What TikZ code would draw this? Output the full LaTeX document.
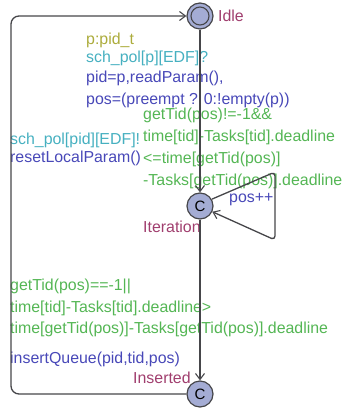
\documentclass[tikz,border=0pt]{standalone}
\usepackage{fontspec}
\setmainfont{Liberation Sans}
\usetikzlibrary{arrows.meta}
\definecolor{locname}{RGB}{160,62,110}
\definecolor{selectc}{RGB}{172,172,60}
\definecolor{syncc}{RGB}{70,176,192}
\definecolor{assignc}{RGB}{72,72,184}
\definecolor{guardc}{RGB}{84,182,84}
\definecolor{locfill}{RGB}{164,172,212}
\definecolor{edgec}{RGB}{70,70,74}
\tikzset{
  loc/.style={circle,draw=edgec,line width=1.2pt,fill=locfill,minimum size=26pt,inner sep=0pt,font=\fontsize{15}{15}\selectfont},
  lbl/.style={anchor=base west,inner sep=0pt,font=\fontsize{15.9}{15.9}\selectfont},
  edge/.style={draw=edgec,line width=1.3pt,rounded corners=6pt},
  arr/.style={-{Straight Barb[length=6pt,width=9pt,line width=1.1pt]}},
}
\begin{document}
\begin{tikzpicture}[x=1pt,y=-1pt]
\useasboundingbox (0,0) rectangle (343,411);

% labels
\node[lbl,text=selectc] (sel) at (86,45) {p:pid\_t};
\node[lbl,text=syncc] (sy1) at (86,63) {sch\_pol[p][EDF]?};
\node[lbl,text=assignc] (as1) at (86,83) {pid=p,readParam(),};
\node[lbl,text=assignc] (as2) at (86,105) {pos=(preempt ? 0:!empty(p))};
\node[lbl,text=guardc] (g1) at (143,120) {getTid(pos)!=-1\&\&};
\node[lbl,text=guardc] (g2) at (143,142) {time[tid]-Tasks[tid].deadline};
\node[lbl,text=guardc] (g3) at (143,164) {<=time[getTid(pos)]};
\node[lbl,text=guardc] (g4) at (143,186) {-Tasks[getTid(pos)].deadline};
\node[lbl,text=syncc] (sy2) at (10,145) {sch\_pol[pid][EDF]!};
\node[lbl,text=assignc] (as3) at (10,163) {resetLocalParam()};
\node[lbl,text=assignc] (inc) at (229,203) {pos++};
\node[lbl,text=guardc] (h1) at (10,290) {getTid(pos)==-1||};
\node[lbl,text=guardc] (h2) at (10,312) {time[tid]-Tasks[tid].deadline>};
\node[lbl,text=guardc] (h3) at (10,333) {time[getTid(pos)]-Tasks[getTid(pos)].deadline};
\node[lbl,text=assignc] (as4) at (10,363) {insertQueue(pid,tid,pos)};

% locations
\node[loc] (idle) at (200,16) {};
\node[circle,draw=edgec,line width=1.1pt,minimum size=18pt,inner sep=0pt] (idlein) at (idle) {};
\node[loc] (iter) at (200,206) {C};
\node[loc] (ins) at (200,394) {C};
\node[lbl,text=locname] (nidle) at (218,22) {Idle};
\node[lbl,text=locname] (niter) at (143,232) {Iteration};
\node[lbl,text=locname] (nins) at (133,383) {Inserted};

% edges
\draw[edge,arr] (idle) -- (iter);
\draw[edge,arr] (iter) -- (ins);
\coordinate (lt) at (275,172);
\coordinate (lb) at (275,240);
\draw[edge,arr,rounded corners=4pt] (iter.30) -- (lt) -- (lb) -- (iter.-25);
\coordinate (bl) at (11,394);
\coordinate (tl) at (11,16);
\draw[edge,arr,rounded corners=8pt] (ins.west) -- (bl) -- (tl) -- (idle.west);
\end{tikzpicture}
\end{document}
